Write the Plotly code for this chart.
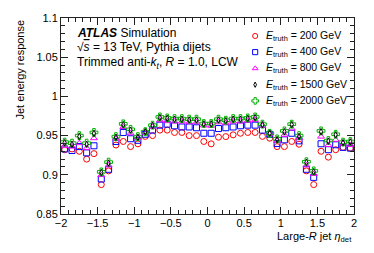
import plotly.graph_objects as go

eta = [-1.95, -1.85, -1.75, -1.65, -1.55, -1.45, -1.35, -1.25, -1.15, -1.05,
       -0.95, -0.85, -0.75, -0.65, -0.55, -0.45, -0.35, -0.25, -0.15, -0.05,
       0.05, 0.15, 0.25, 0.35, 0.45, 0.55, 0.65, 0.75, 0.85, 0.95,
       1.05, 1.15, 1.25, 1.35, 1.45, 1.55, 1.65, 1.75, 1.85, 1.95]

resp_200 = [0.932, 0.933, 0.930, 0.920, 0.927, 0.8875, 0.905, 0.938, 0.9425, 0.936,
            0.9395, 0.949, 0.950, 0.957, 0.957, 0.954, 0.954, 0.950, 0.950, 0.9425,
            0.9395, 0.948, 0.9487, 0.951, 0.953, 0.954, 0.954, 0.949, 0.9467, 0.936,
            0.936, 0.9425, 0.939, 0.905, 0.8875, 0.930, 0.9225, 0.932, 0.935, 0.934]

resp_400 = [0.933, 0.931, 0.936, 0.928, 0.937, 0.8946, 0.907, 0.9425, 0.954, 0.946,
            0.944, 0.9517, 0.957, 0.9633, 0.9646, 0.9625, 0.961, 0.961, 0.960, 0.953,
            0.953, 0.959, 0.960, 0.961, 0.9625, 0.9633, 0.9633, 0.957, 0.9517, 0.940,
            0.9446, 0.953, 0.9433, 0.907, 0.8967, 0.9396, 0.932, 0.9383, 0.935, 0.934]

resp_800 = [0.937, 0.936, 0.9404, 0.934, 0.9467, 0.8996, 0.912, 0.946, 0.961, 0.953,
            0.947, 0.954, 0.961, 0.9696, 0.9685, 0.968, 0.968, 0.967, 0.967, 0.963,
            0.9625, 0.967, 0.966, 0.968, 0.968, 0.969, 0.970, 0.9625, 0.9525, 0.9433,
            0.951, 0.959, 0.9467, 0.912, 0.901, 0.9487, 0.938, 0.9446, 0.940, 0.938]

resp_1500 = [0.941, 0.939, 0.949, 0.939, 0.953, 0.903, 0.915, 0.948, 0.964, 0.957,
             0.948, 0.955, 0.963, 0.973, 0.972, 0.971, 0.971, 0.970, 0.970, 0.965,
             0.965, 0.970, 0.969, 0.971, 0.971, 0.972, 0.973, 0.964, 0.953, 0.945,
             0.955, 0.964, 0.949, 0.916, 0.904, 0.955, 0.943, 0.951, 0.941, 0.942]

resp_2000 = [0.9417, 0.9404, 0.950, 0.9404, 0.954, 0.9037, 0.9162, 0.9487, 0.965, 0.958,
             0.9487, 0.955, 0.9633, 0.9738, 0.9725, 0.9717, 0.9717, 0.971, 0.971, 0.9654,
             0.9654, 0.971, 0.9696, 0.9717, 0.9717, 0.9725, 0.9738, 0.9646, 0.953, 0.9458,
             0.956, 0.9646, 0.950, 0.9167, 0.905, 0.956, 0.9437, 0.9517, 0.9417, 0.9425]

energies = ["200", "400", "800", "1500", "2000"]
x_ticks = [-2, -1.5, -1, -0.5, 0, 0.5, 1, 1.5, 2]
x_ticktext = ["−2", "−1.5", "−1", "−0.5", "0", "0.5", "1", "1.5", "2"]
y_ticks = [0.85, 0.9, 0.95, 1, 1.05, 1.1]
y_ticktext = ["0.85", "0.9", "0.95", "1", "1.05", "1.1"]

FONT = "Liberation Sans, Arial, sans-serif"
W, H = 374, 253
L, R, T, B = 60.5, 20, 13.3, 38.7
PW, PH = W - L - R, H - T - B


def px2paper(px, py):
    return (px - L) / PW, 1 - (py - T) / PH


# (values, label, symbol, colour, size, legend row)
series = [
    (resp_200, energies[0], "circle-open", "#ff0000", 6, 0),
    (resp_400, energies[1], "square-open", "#0000ff", 6, 1),
    (resp_800, energies[2], "triangle-up-open", "#ff00ff", 6, 2),
    (resp_2000, energies[4], "cross-open", "#00b000", 6.5, 4),
    (resp_1500, energies[3], "diamond-tall-open", "#000000", 4.5, 3),
]

legend_rows_y = [31.7, 48.3, 65.0, 81.7, 98.3]
legend_marker_x = 255
legend_text_x = 264

fig = go.Figure()
for vals, lab, sym, col, sz, row in series:
    mk = dict(symbol=sym, size=sz, color=col, line=dict(color=col, width=1))
    fig.add_trace(go.Scatter(x=eta, y=vals, mode="markers", marker=mk,
                             showlegend=False, name=f"E_truth = {lab} GeV"))
    lx, ly = px2paper(legend_marker_x, legend_rows_y[row])
    mk_leg = dict(mk, size=sz * 0.85)
    fig.add_trace(go.Scatter(x=[lx], y=[ly], xaxis="x2", yaxis="y2", mode="markers",
                             marker=mk_leg, showlegend=False, hoverinfo="skip"))
    tx, ty = px2paper(legend_text_x, legend_rows_y[row])
    fig.add_annotation(text=f"<i>E</i><sub>truth</sub> = {lab} GeV", xref="paper", yref="paper",
                       x=tx, y=ty, xanchor="left", yanchor="middle", showarrow=False,
                       font=dict(family=FONT, size=10.5, color="black"))

axis_common = dict(
    showline=True, linecolor="#222", linewidth=1, mirror="ticks",
    ticks="inside", ticklen=7, tickcolor="#222", tickwidth=1,
    showgrid=False, zeroline=False,
    tickfont=dict(family=FONT, size=11, color="black"),
)

fig.update_layout(
    xaxis=dict(range=[-2, 2], tickvals=x_ticks, ticktext=x_ticktext, ticklabelstandoff=-1,
               minor=dict(dtick=0.1, ticks="inside", ticklen=4, tickcolor="#222", showgrid=False),
               **axis_common),
    yaxis=dict(range=[0.85, 1.1], tickvals=y_ticks, ticktext=y_ticktext,
               minor=dict(dtick=0.01, ticks="inside", ticklen=4, tickcolor="#222", showgrid=False),
               **axis_common),
    xaxis2=dict(range=[0, 1], overlaying="x", anchor="y2", visible=False, fixedrange=True),
    yaxis2=dict(range=[0, 1], overlaying="y", anchor="x2", visible=False, fixedrange=True),
    width=W, height=H,
    margin=dict(l=L, r=R, t=T, b=B),
    paper_bgcolor="white", plot_bgcolor="white",
    font=dict(family=FONT, size=11, color="black"),
    showlegend=False,
)

annos = [
    ("<b><i>ATLAS</i></b> Simulation", 28.5),
    ("√<span style='text-decoration:overline'><i>s</i></span> = 13 TeV, Pythia dijets", 43.5),
    ("Trimmed anti-<i>k</i><sub><i>t</i></sub>, <i>R</i> = 1.0, LCW", 59.5),
]
for txt, yy in annos:
    ax_, ay_ = px2paper(75, yy)
    fig.add_annotation(text=txt, xref="paper", yref="paper", x=ax_, y=ay_,
                       xanchor="left", yanchor="middle", showarrow=False,
                       font=dict(family=FONT, size=12, color="black"))

yx, _ = px2paper(19, 0)
fig.add_annotation(text="Jet energy response", xref="paper", yref="paper",
                   x=yx, y=1, xanchor="center", yanchor="top",
                   textangle=-90, showarrow=False,
                   font=dict(family=FONT, size=11, color="black"))
_, xty = px2paper(0, 238)
fig.add_annotation(text="Large-<i>R</i> jet <i>η</i><sub>det</sub>", xref="paper", yref="paper",
                   x=1, y=xty, xanchor="right", yanchor="middle",
                   showarrow=False, font=dict(family=FONT, size=11, color="black"))

fig.write_html("out.html", config={"displayModeBar": False},
               post_script="document.body.style.margin='0';")
